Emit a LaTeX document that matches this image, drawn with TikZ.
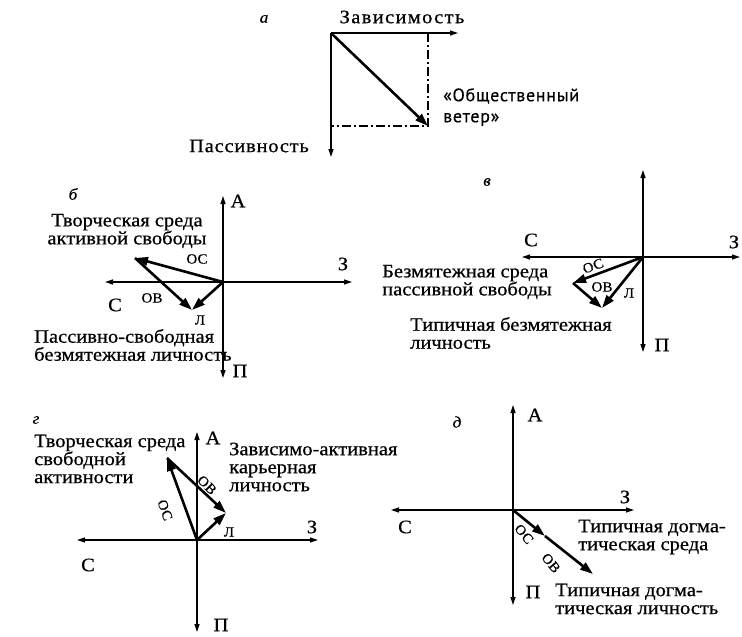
\documentclass[tikz,border=0pt]{standalone}
\usepackage{fontspec}
\setmainfont{Liberation Serif}[FakeStretch=1.08,FakeBold=0.6]
\newfontfamily\windfont{PT Sans}[LetterSpace=4,FakeBold=0.4]
\usetikzlibrary{arrows.meta}
\begin{document}
\begin{tikzpicture}[x=1pt,y=-1pt,
 axis/.style={line width=1.2pt,-{Triangle[length=8pt,width=5pt]}},
 vec/.style={line width=2.6pt,-{Triangle[length=13pt,width=8.5pt]}},
 dashdotline/.style={line width=1.3pt,dash pattern=on 9pt off 3pt on 2pt off 3pt},
 lbl/.style={font=\fontsize{19}{20}\selectfont, inner sep=0pt},
 sml/.style={font=\fontsize{14}{15}\selectfont, inner sep=0pt},
 pan/.style={font=\fontsize{16}{17}\selectfont\itshape, inner sep=0pt},
 txt/.style={font=\fontsize{19}{18}\selectfont, inner sep=0pt, align=left},
]
\path[use as bounding box] (0,0) rectangle (742,637);

% ---------- panel a ----------
\coordinate (aO) at (331,33);
\coordinate (aX) at (458,33);
\coordinate (aY) at (331,157);
\coordinate (aW) at (428,126);
\coordinate (aR) at (428,33);
\coordinate (aB) at (331,126);
\draw[dashdotline] (aR) -- (aW) -- (aB);
\draw[axis] (aO) -- (aX);
\draw[axis] (aO) -- (aY);
\draw[vec] (aO) -- (aW);
\node[pan] (la) at (264,19) {а};
\node[lbl] (aZ) at (402,17) {\addfontfeature{LetterSpace=7}Зависимость};
\node[lbl, anchor=east] (aP) at (309,146) {\addfontfeature{LetterSpace=4}Пассивность};
\node[font=\windfont\fontsize{18}{21}\selectfont, inner sep=0pt, align=left, anchor=west] (aV) at (443,107) {«Общественный\\ветер»};

% ---------- panel b ----------
\coordinate (bO) at (223,282);
\coordinate (bA) at (223,196);
\coordinate (bP) at (223,378);
\coordinate (bC) at (105,282);
\coordinate (bZ) at (352,282);
\coordinate (bS) at (135,258);
\coordinate (bL) at (192,310);
\draw[axis] (bO) -- (bA);
\draw[axis] (bO) -- (bP);
\draw[axis] (bO) -- (bC);
\draw[axis] (bO) -- (bZ);
\draw[vec] (bO) -- (bS);
\draw[vec] (bS) -- (bL);
\draw[vec] (bO) -- (bL);
\node[pan] (lb) at (73,194) {б};
\node[lbl] (bAt) at (238,201) {А};
\node[lbl] (bPt) at (240,371) {П};
\node[lbl] (bCt) at (115,305) {С};
\node[lbl] (bZt) at (343,264) {З};
\node[sml] (bOC) at (197,259) {ОС};
\node[sml] (bOB) at (152,298) {ОВ};
\node[sml] (bLt) at (200,320) {Л};
\node[txt, align=center] (bT1) at (127,231) {Творческая среда\\активной свободы};
\node[txt, anchor=west] (bT2) at (34,345) {Пассивно-свободная\\безмятежная личность};

% ---------- panel v ----------
\coordinate (vO) at (643,257);
\coordinate (vA) at (643,170);
\coordinate (vP) at (643,352);
\coordinate (vC) at (522,257);
\coordinate (vZ) at (740,257);
\coordinate (vS) at (573,283);
\coordinate (vL) at (602,308);
\draw[axis] (vO) -- (vA);
\draw[axis] (vO) -- (vP);
\draw[axis] (vO) -- (vC);
\draw[axis] (vO) -- (vZ);
\draw[vec] (vO) -- (vS);
\draw[vec] (vS) -- (vL);
\draw[vec] (vO) -- (vL);
\node[pan] (lv) at (487,182) {в};
\node[lbl] (vCt) at (531,240) {С};
\node[lbl] (vZt) at (734,242) {З};
\node[lbl] (vPt) at (662,345) {П};
\node[sml, rotate=20] (vOC) at (593,266) {ОС};
\node[sml] (vOB) at (602,287) {ОВ};
\node[sml] (vLt) at (629,293) {Л};
\node[txt, anchor=west] (vT1) at (382,282) {Безмятежная среда\\пассивной свободы};
\node[txt, anchor=west] (vT2) at (410,333) {Типичная безмятежная\\личность};

% ---------- panel g ----------
\coordinate (gO) at (197,540);
\coordinate (gA) at (197,432);
\coordinate (gP) at (197,632);
\coordinate (gC) at (77,540);
\coordinate (gZ) at (318,540);
\coordinate (gS) at (167,458);
\coordinate (gL) at (226,513);
\draw[axis] (gO) -- (gA);
\draw[axis] (gO) -- (gP);
\draw[axis] (gO) -- (gC);
\draw[axis] (gO) -- (gZ);
\draw[vec] (gO) -- (gS);
\draw[vec] (gS) -- (gL);
\draw[vec] (gO) -- (gL);
\node[pan] (lg) at (36,420) {г};
\node[lbl] (gAt) at (213,438) {А};
\node[lbl] (gPt) at (221,625) {П};
\node[lbl] (gCt) at (88,565) {С};
\node[lbl] (gZt) at (312,527) {З};
\node[sml, rotate=-70] (gOC) at (165,510) {ОС};
\node[sml, rotate=-45] (gOB) at (207,485) {ОВ};
\node[sml] (gLt) at (229,532) {Л};
\node[txt, anchor=west] (gT1) at (34,459) {Творческая среда\\свободной\\активности};
\node[txt, anchor=west] (gT2) at (229,467) {Зависимо-активная\\карьерная\\личность};

% ---------- panel d ----------
\coordinate (dO) at (513,510);
\coordinate (dA) at (513,405);
\coordinate (dP) at (513,605);
\coordinate (dC) at (391,510);
\coordinate (dZ) at (634,510);
\coordinate (dS) at (545,536);
\coordinate (dL) at (593,574);
\draw[axis] (dO) -- (dA);
\draw[axis] (dO) -- (dP);
\draw[axis] (dO) -- (dC);
\draw[axis] (dO) -- (dZ);
\draw[vec] (dO) -- (dS);
\draw[vec] (dS) -- (dL);
\node[pan] (ld) at (457,422) {д};
\node[lbl] (dAt) at (535,415) {А};
\node[lbl] (dPt) at (533,592) {П};
\node[lbl] (dCt) at (405,527) {С};
\node[lbl] (dZt) at (625,497) {З};
\node[sml, rotate=-50] (dOC) at (524,534) {ОС};
\node[sml, rotate=-50] (dOB) at (551,563) {ОВ};
\node[txt, anchor=west] (dT1) at (578,537) {Типичная догма-\\тическая среда};
\node[txt, anchor=west] (dT2) at (555,599) {Типичная догма-\\тическая личность};
\end{tikzpicture}
\end{document}
